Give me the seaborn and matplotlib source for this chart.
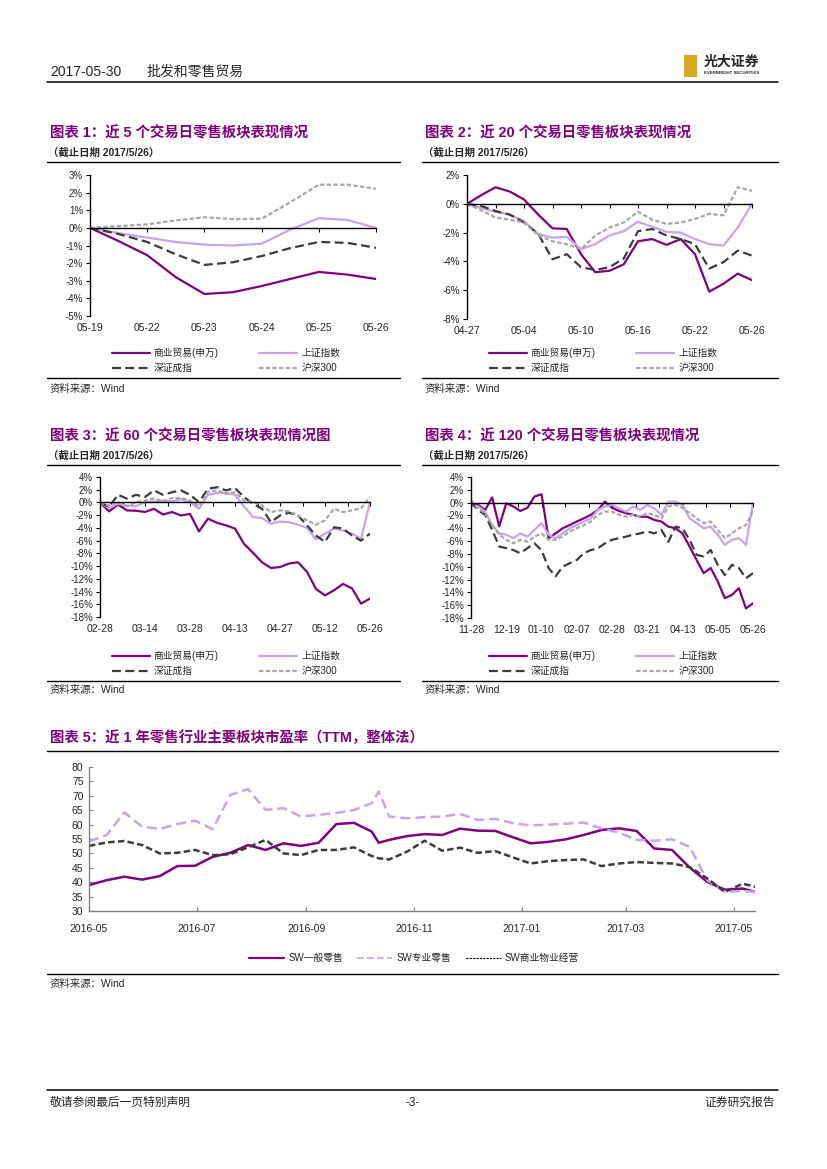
import numpy as np
import pandas as pd
import matplotlib
matplotlib.use('Agg')
import matplotlib.pyplot as plt
from matplotlib.lines import Line2D
from matplotlib.patches import Rectangle
from matplotlib.ticker import PercentFormatter
import matplotlib.dates as mdates
import seaborn as sns

# ---------------- data ----------------
SERIES = ['商业贸易(申万)', '上证指数', '深证成指', '沪深300']

# chart 1: last 5 trading days (curve sampled every half day)
DAYS5 = ['05-19', '05-22', '05-23', '05-24', '05-25', '05-26']
X5 = np.arange(0, 5.01, 0.5)
C1_TRADE = [0, -0.75, -1.55, -2.8, -3.75, -3.65, -3.3, -2.9, -2.5, -2.65, -2.9]
C1_SH = [0, -0.3, -0.55, -0.8, -0.95, -1.0, -0.9, -0.1, 0.55, 0.45, 0.0]
C1_SZ = [0, -0.35, -0.8, -1.5, -2.1, -1.95, -1.6, -1.15, -0.8, -0.85, -1.13]
C1_HS = [0, 0.1, 0.2, 0.42, 0.6, 0.5, 0.52, 1.45, 2.45, 2.45, 2.22]

# chart 2: last 20 trading days
DAYS20 = ['04-27', '05-04', '05-10', '05-16', '05-22', '05-26']
X20 = np.arange(21)
C2_TRADE = [0, 0.6, 1.15, 0.85, 0.3, -0.75, -1.7, -1.75, -3.5, -4.75, -4.65,
            -4.2, -2.6, -2.45, -2.85, -2.45, -3.5, -6.1, -5.55, -4.85, -5.3]
C2_SH = [0, -0.3, -0.55, -0.75, -1.2, -2.1, -2.35, -2.3, -3.15, -2.8, -2.2,
         -1.9, -1.25, -1.6, -1.95, -2.0, -2.45, -2.8, -2.9, -1.65, 0]
C2_SZ = [0, -0.15, -0.5, -0.75, -1.3, -2.1, -3.85, -3.5, -4.4, -4.6, -4.4,
         -3.8, -1.9, -1.75, -2.2, -2.45, -2.8, -4.5, -4.05, -3.25, -3.6]
C2_HS = [0, -0.45, -0.95, -1.1, -1.3, -2.2, -2.6, -2.8, -3.15, -2.2, -1.65,
         -1.3, -0.55, -1.1, -1.4, -1.3, -1.05, -0.7, -0.8, 1.15, 0.9]

# chart 3: last 60 trading days (every 2nd day)
DAYS60 = ['02-28', '03-14', '03-28', '04-13', '04-27', '05-12', '05-26']
X60 = np.arange(0, 61, 2)
C3_TRADE = [0, -1.4, -0.35, -1.25, -1.3, -1.5, -1.0, -1.9, -1.5, -2.05, -1.8,
            -4.55, -2.55, -3.2, -3.6, -4.1, -6.5, -7.9, -9.4, -10.3, -10.15,
            -9.6, -9.4, -10.9, -13.6, -14.6, -13.8, -12.8, -13.5, -15.9, -15.1]
C3_SH = [0, -0.9, -0.2, -0.5, -0.6, 0.05, 0.15, 0.3, 0.15, 0.5, 0.05,
         -1.0, 1.2, 1.5, 1.5, 1.2, -0.6, -2.3, -2.45, -3.35, -3.0,
         -3.1, -3.5, -4.0, -5.8, -4.9, -4.1, -4.4, -4.9, -5.7, 0.0]
C3_SZ = [0, -0.7, 1.2, 0.6, 1.2, 0.85, 1.9, 1.2, 1.6, 1.9, 1.2,
         0.05, 2.15, 2.4, 1.9, 2.25, 0.85, -0.2, -1.0, -3.1, -2.05,
         -1.6, -2.05, -3.6, -5.2, -6.2, -3.9, -4.1, -5.2, -6.0, -4.9]
C3_HS = [0, -0.5, 0.05, -0.6, 0.05, 0.3, 0.6, 0.15, 0.7, 0.7, 0.3,
         -0.6, 1.7, 1.9, 1.35, 1.6, 0.3, 0.05, -0.5, -1.5, -1.25,
         -1.4, -2.05, -2.8, -3.5, -2.8, -1.0, -1.5, -1.25, -0.9, 0.85]

# chart 4: last 120 trading days (every 3rd day)
DAYS120 = ['11-28', '12-19', '01-10', '02-07', '02-28', '03-21', '04-13', '05-05', '05-26']
X120 = np.arange(0, 121, 3)
C4_TRADE = [-0.5, -0.35, -1.15, 0.8, -3.7, -0.1, -0.6, -1.3, -0.8, 0.95, 1.3,
            -5.55, -4.8, -4.0, -3.5, -2.95, -2.45, -1.9, -1.15, 0.15, -0.8,
            -1.3, -1.65, -1.9, -2.2, -2.2, -2.7, -2.95, -3.75, -4.0, -4.8,
            -6.85, -8.95, -11.0, -10.2, -12.3, -14.9, -14.4, -13.35, -16.5, -15.7]
C4_SH = [-0.35, -0.6, -1.4, -3.5, -4.8, -5.0, -5.55, -4.8, -5.3, -4.25, -3.2,
         -5.0, -5.55, -4.8, -4.0, -3.5, -2.95, -2.45, -1.15, -0.6, -0.35,
         -0.9, -1.4, -0.6, -1.15, -0.35, -0.9, -1.9, 0.15, 0.15, -0.35,
         -2.45, -3.2, -4.0, -3.75, -5.0, -6.6, -5.8, -5.55, -6.6, 0.0]
C4_SZ = [0.15, -1.15, -1.9, -4.25, -6.85, -7.1, -7.4, -7.9, -7.1, -6.35, -7.4,
         -10.2, -11.5, -10.0, -9.45, -8.95, -7.9, -7.4, -7.1, -6.35, -5.8,
         -5.55, -5.3, -5.0, -4.8, -4.5, -4.8, -4.25, -6.1, -3.75, -4.0,
         -5.8, -8.15, -8.4, -7.4, -9.7, -11.3, -9.7, -10.2, -11.8, -11.0]
C4_HS = [0.4, -0.9, -1.65, -3.5, -5.0, -5.8, -6.35, -5.8, -6.1, -5.3, -4.8,
         -5.8, -5.8, -5.3, -4.5, -4.0, -3.5, -2.95, -1.9, -1.4, -1.4,
         -1.9, -2.2, -1.9, -2.2, -1.65, -1.9, -2.45, -0.6, -0.35, -0.8,
         -1.65, -2.45, -3.2, -2.95, -4.25, -5.55, -4.8, -4.0, -3.5, -1.4]

# chart 5: PE (TTM) of three retail sub-sectors
PE_DATES = ['2016-05-01', '2016-05-11', '2016-05-21', '2016-05-31', '2016-06-10',
            '2016-06-20', '2016-06-30', '2016-07-10', '2016-07-20', '2016-07-30',
            '2016-08-09', '2016-08-19', '2016-08-29', '2016-09-08', '2016-09-18',
            '2016-09-28', '2016-10-08', '2016-10-12', '2016-10-18', '2016-10-28',
            '2016-11-07', '2016-11-17', '2016-11-27', '2016-12-07', '2016-12-17',
            '2016-12-27', '2017-01-06', '2017-01-16', '2017-01-26', '2017-02-05',
            '2017-02-15', '2017-02-25', '2017-03-07', '2017-03-17', '2017-03-27',
            '2017-04-06', '2017-04-16', '2017-04-26', '2017-05-06', '2017-05-13']
PE_GENERAL = [39.0, 40.7, 41.9, 40.9, 42.1, 45.6, 45.7, 48.8, 50.2, 52.9,
              51.2, 53.5, 52.6, 53.7, 60.2, 60.6, 57.6, 53.7, 54.7, 56.0,
              56.7, 56.4, 58.6, 57.9, 57.8, 55.6, 53.5, 54.0, 54.9, 56.4,
              58.1, 58.7, 57.8, 51.7, 51.2, 45.1, 40.1, 37.4, 37.8, 36.6]
PE_SPECIAL = [54.1, 56.4, 64.2, 59.3, 58.5, 60.2, 61.4, 58.4, 70.3, 72.3,
              65.1, 65.7, 62.8, 63.4, 64.0, 65.1, 67.4, 71.5, 62.8, 62.2,
              62.6, 62.8, 63.7, 61.6, 62.0, 60.5, 59.7, 60.0, 60.3, 60.7,
              58.7, 57.2, 54.7, 54.4, 54.9, 52.3, 40.7, 36.6, 37.0, 36.6]
PE_PROPERTY = [52.6, 53.8, 54.3, 52.9, 50.0, 50.2, 51.2, 49.4, 49.7, 52.1,
               54.7, 50.0, 49.4, 51.2, 51.2, 52.1, 49.1, 48.3, 47.9, 50.6,
               54.4, 50.9, 52.0, 50.2, 50.8, 48.6, 46.5, 47.3, 47.7, 47.9,
               45.6, 46.5, 47.0, 46.7, 46.5, 45.3, 41.3, 36.6, 39.5, 38.4]
PE_NAMES = ['SW一般零售', 'SW专业零售', 'SW商业物业经营']
PE_MONTHS = ['2016-05-01', '2016-07-01', '2016-09-01', '2016-11-01',
             '2017-01-01', '2017-03-01', '2017-05-01']

# ---------------- style ----------------
sns.set_theme(style='white')
plt.rcParams['font.family'] = ['Liberation Sans', 'Noto Sans CJK SC', 'DejaVu Sans']
plt.rcParams['axes.unicode_minus'] = False

PURPLE = '#800080'
LILAC = '#C9A2F2'
DARK = '#3C3C3C'
GREY = '#A8A8A8'
COLORS = dict(zip(SERIES, [PURPLE, LILAC, DARK, GREY]))
DASHES = dict(zip(SERIES, ['', '', (4, 2), (2, 1)]))

W, H = 827, 1169
fig = plt.figure(figsize=(8.27, 11.69), dpi=100)


def fx(x):
    return x / W


def fy(y):
    return 1 - y / H


def box(l, t, r, b):
    return [l / W, 1 - b / H, (r - l) / W, (b - t) / H]


def hline(x0, x1, y, lw=1.0):
    fig.add_artist(Line2D([fx(x0), fx(x1)], [fy(y), fy(y)], transform=fig.transFigure,
                          color='black', lw=lw))


def header_block(x, y, title, subtitle=True):
    fig.text(fx(x), fy(y), title, color=PURPLE, fontsize=10.4, fontweight='bold',
             ha='left', va='center')
    if subtitle:
        fig.text(fx(x - 2), fy(y + 20), '（截止日期 2017/5/26）', fontsize=7.5,
                 fontweight='bold', ha='left', va='center')


def source(x, y):
    fig.text(fx(x), fy(y), '资料来源：Wind', fontsize=7.5, ha='left', va='center')


def returns_chart(rect, x, values, ylim, yticks, tick_pos, label_pos, labels,
                  legend_xy):
    ax = fig.add_axes(box(*rect))
    df = pd.DataFrame({'x': x, **dict(zip(SERIES, values))})
    df = df.melt('x', var_name='series', value_name='value')
    sns.lineplot(data=df, x='x', y='value', hue='series', style='series',
                 hue_order=SERIES, style_order=SERIES, palette=COLORS,
                 dashes=DASHES, linewidth=1.6, estimator=None, legend=False, ax=ax)
    ax.set_xlim(x[0], x[-1])
    ax.set_ylim(*ylim)
    ax.set_xlabel('')
    ax.set_ylabel('')
    for s in ['top', 'right']:
        ax.spines[s].set_visible(False)
    for s in ['left', 'bottom']:
        ax.spines[s].set_color('black')
        ax.spines[s].set_linewidth(1.0)
    ax.spines['bottom'].set_position(('data', 0))
    ax.set_yticks(yticks)
    ax.yaxis.set_major_formatter(PercentFormatter(decimals=0))
    ax.set_xticks(tick_pos)
    ax.tick_params(axis='y', left=True, direction='out', length=3, width=0.8,
                   color='black', labelsize=7, pad=2)
    ax.tick_params(axis='x', bottom=True, direction='out', length=3, width=0.8,
                   color='black', labelbottom=False)
    sec = ax.secondary_xaxis('bottom')
    sec.set_xticks(label_pos, labels=labels)
    sec.tick_params(axis='x', length=0, labelsize=7.5, pad=5)
    sec.spines['bottom'].set_visible(False)

    handles = [Line2D([], [], color=COLORS[s], lw=1.6,
                      dashes=DASHES[s] if DASHES[s] else (None, None)) for s in SERIES]
    order = [0, 2, 1, 3]
    fig.legend([handles[i] for i in order], [SERIES[i] for i in order], ncol=2,
               loc='center', bbox_to_anchor=(fx(legend_xy[0]), fy(legend_xy[1])),
               frameon=False, fontsize=7, handlelength=3.9, handletextpad=0.4,
               columnspacing=4.2, labelspacing=0.5, borderpad=0)
    return ax


# ---------------- page header / footer ----------------
fig.text(fx(50), fy(72), '2017-05-30', fontsize=10, ha='left', va='center')
fig.text(fx(147), fy(72), '批发和零售贸易', fontsize=10, ha='left', va='center')
hline(47, 778, 82, lw=1.1)
fig.add_artist(Rectangle((fx(684), fy(77)), fx(13), 22 / H, transform=fig.transFigure,
                         color='#D9A81E', lw=0))
fig.text(fx(704), fy(62), '光大证券', fontsize=10, fontweight='bold', ha='left',
         va='center')
fig.text(fx(704), fy(72.5), 'EVERBRIGHT SECURITIES', fontsize=3.2, fontweight='bold',
         ha='left', va='center')

hline(47, 778, 1090, lw=1.1)
fig.text(fx(50), fy(1103), '敬请参阅最后一页特别声明', fontsize=8.5, ha='left', va='center')
fig.text(fx(413), fy(1103), '-3-', fontsize=8.5, ha='center', va='center')
fig.text(fx(775), fy(1103), '证券研究报告', fontsize=8.5, ha='right', va='center')

# ---------------- chart 1 ----------------
header_block(50, 133, '图表 1：近 5 个交易日零售板块表现情况')
hline(47, 400, 162)
returns_chart((90, 175, 376, 316), X5, [C1_TRADE, C1_SH, C1_SZ, C1_HS],
              (-5, 3), np.arange(-5, 4, 1), np.arange(0, 6), np.arange(0, 6), DAYS5,
              (226, 360.5))
hline(47, 400, 378)
source(50, 389)

# ---------------- chart 2 ----------------
header_block(425, 133, '图表 2：近 20 个交易日零售板块表现情况')
hline(422, 778, 162)
returns_chart((467, 175, 752, 319), X20, [C2_TRADE, C2_SH, C2_SZ, C2_HS],
              (-8, 2), np.arange(-8, 3, 2), np.arange(0, 21, 2), np.arange(0, 21, 4),
              DAYS20, (603, 360.5))
hline(422, 778, 378)
source(425, 389)

# ---------------- chart 3 ----------------
header_block(50, 436, '图表 3：近 60 个交易日零售板块表现情况图')
hline(47, 400, 465)
returns_chart((100, 477, 370, 617), X60, [C3_TRADE, C3_SH, C3_SZ, C3_HS],
              (-18, 4), np.arange(-18, 5, 2), np.arange(0, 61, 5), np.arange(0, 61, 10),
              DAYS60, (226, 663.5))
hline(47, 400, 681)
source(50, 690)

# ---------------- chart 4 ----------------
header_block(425, 436, '图表 4：近 120 个交易日零售板块表现情况')
hline(422, 778, 465)
returns_chart((471, 477, 753, 618), X120, [C4_TRADE, C4_SH, C4_SZ, C4_HS],
              (-18, 4), np.arange(-18, 5, 2), np.arange(0, 121, 10),
              np.arange(0, 121, 15), DAYS120, (603, 663.5))
hline(422, 778, 681)
source(425, 690)

# ---------------- chart 5 ----------------
header_block(50, 738, '图表 5：近 1 年零售行业主要板块市盈率（TTM，整体法）', subtitle=False)
hline(47, 778, 751)

ax5 = fig.add_axes(box(89, 767, 755, 911))
pe = pd.DataFrame({'date': pd.to_datetime(PE_DATES),
                   PE_NAMES[0]: PE_GENERAL, PE_NAMES[1]: PE_SPECIAL,
                   PE_NAMES[2]: PE_PROPERTY})
pe = pe.melt('date', var_name='sector', value_name='pe')
PE_COLORS = dict(zip(PE_NAMES, [PURPLE, LILAC, DARK]))
PE_DASHES = dict(zip(PE_NAMES, ['', (4, 2), (2.6, 1.3)]))
sns.lineplot(data=pe, x='date', y='pe', hue='sector', style='sector',
             hue_order=PE_NAMES, style_order=PE_NAMES, palette=PE_COLORS,
             dashes=PE_DASHES, linewidth=1.8, estimator=None, legend=False, ax=ax5)
ax5.set_xlim(pd.Timestamp('2016-05-01'), pd.Timestamp('2017-05-13'))
ax5.set_ylim(30, 80)
ax5.set_yticks(np.arange(30, 81, 5))
ax5.set_xticks(pd.to_datetime(PE_MONTHS))
ax5.xaxis.set_major_formatter(mdates.DateFormatter('%Y-%m'))
ax5.set_xlabel('')
ax5.set_ylabel('')
for s in ['top', 'right']:
    ax5.spines[s].set_visible(False)
for s in ['left', 'bottom']:
    ax5.spines[s].set_color('#808080')
    ax5.spines[s].set_linewidth(1.0)
ax5.tick_params(axis='both', left=True, bottom=True, direction='in', length=3,
                width=0.8, color='#808080', labelsize=7.5)
ax5.tick_params(axis='x', pad=9)
ax5.tick_params(axis='y', pad=4)

pe_handles = [Line2D([], [], color=PURPLE, lw=1.6),
              Line2D([], [], color=LILAC, lw=1.2, dashes=(4, 2)),
              Line2D([], [], color='black', lw=0.8, dashes=(2, 1))]
fig.legend(pe_handles, PE_NAMES, ncol=3, loc='center',
           bbox_to_anchor=(fx(414), fy(958)), frameon=False, fontsize=7,
           handlelength=3.6, handletextpad=0.4, columnspacing=1.5, borderpad=0)
hline(47, 778, 974)
source(50, 984)

fig.savefig('out.png', dpi=100)
